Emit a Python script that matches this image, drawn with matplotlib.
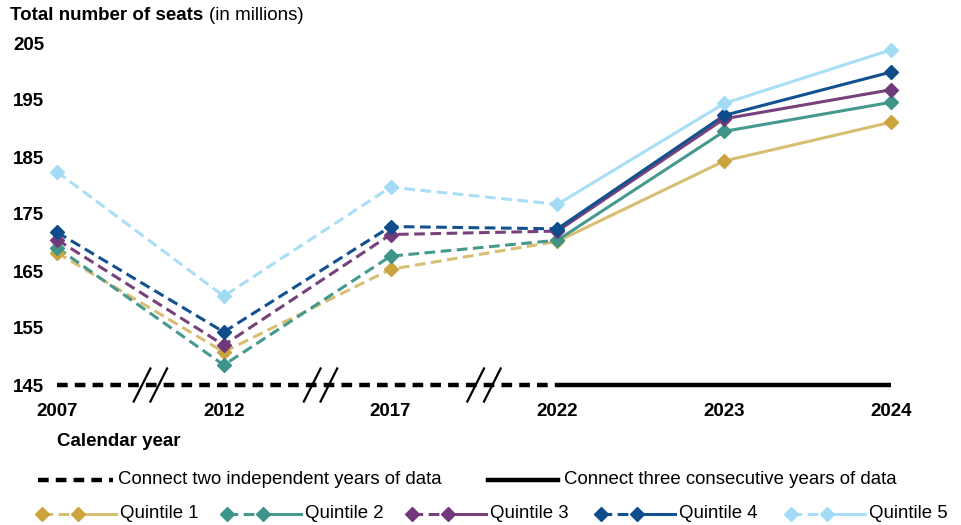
import matplotlib
matplotlib.use("Agg")
import matplotlib.pyplot as plt
from matplotlib.lines import Line2D

plt.rcParams['font.family'] = ['Liberation Sans', 'DejaVu Sans']

# data (millions of seats)
years = ['2007', '2012', '2017', '2022', '2023', '2024']
quintiles = ['Quintile 1', 'Quintile 2', 'Quintile 3', 'Quintile 4', 'Quintile 5']
q1 = [168.2, 150.8, 165.3, 170.2, 184.3, 191.1]
q2 = [169.1, 148.5, 167.6, 170.4, 189.5, 194.6]
q3 = [170.5, 152.0, 171.4, 172.0, 191.7, 196.8]
q4 = [171.8, 154.3, 172.8, 172.4, 192.3, 199.9]
q5 = [182.4, 160.6, 179.7, 176.7, 194.4, 203.8]
series = [q1, q2, q3, q4, q5]
yticks = [145, 155, 165, 175, 185, 195, 205]

line_colors = ['#D8BE72', '#46998F', '#77417B', '#12518F', '#A9DEF7']
marker_colors = ['#CCA43E', '#3E9489', '#71397A', '#0F4C8C', '#A3DAF5']

W, H = 962, 525
fig = plt.figure(figsize=(W / 100, H / 100), dpi=100)
ax = fig.add_axes([57 / W, 1 - 385 / H, (891 - 57) / W, (385 - 43) / H])

x = list(range(len(years)))
lw = 2.2
ms = 7.5
dash = (0, (3.5, 1.8))
for vals, lc, mc in zip(series, line_colors, marker_colors):
    # independent years -> dashed, consecutive years -> solid
    ax.plot(x[:4], vals[:4], color=lc, lw=lw, ls=dash, clip_on=False, zorder=3)
    ax.plot(x[3:], vals[3:], color=lc, lw=lw, ls='-', clip_on=False, zorder=3)
    ax.plot(x, vals, ls='none', marker='D', ms=ms, color=mc, clip_on=False, zorder=4)

# baseline along the x axis
ymin = yticks[0]
ax.plot(x[:4], [ymin] * 4, color='black', lw=3.2, ls=(0, (2.4, 1.6)), clip_on=False, zorder=2)
ax.plot(x[3:], [ymin] * 3, color='black', lw=3.2, ls='-', solid_capstyle='butt', clip_on=False, zorder=2)

# axis break marks between non-consecutive years
for xb in [0.56, 1.58, 2.56]:
    for off in [-0.05, 0.05]:
        xc = xb + off
        ax.plot([xc - 0.05, xc + 0.05], [ymin - 2.9, ymin + 2.9], color='black', lw=1.6,
                clip_on=False, zorder=5)

ax.set_xlim(0, 5)
ax.set_ylim(145, 205)
ax.set_xticks(x)
ax.set_xticklabels(years, fontweight='bold', fontsize=13.5)
ax.set_yticks(yticks)
ax.set_yticklabels([str(t) for t in yticks], fontweight='bold', fontsize=13.5)
ax.tick_params(axis='both', length=0)
ax.tick_params(axis='x', pad=13)
ax.tick_params(axis='y', pad=9)
for s in ax.spines.values():
    s.set_visible(False)

# title
t1 = fig.text(10 / W, 1 - 16 / H, 'Total number of seats', fontsize=13.5, fontweight='bold',
              ha='left', va='center')
fig.canvas.draw()
bb = t1.get_window_extent()
fig.text(bb.x1 / W + 6 / W, 1 - 16 / H, '(in millions)', fontsize=13.5, ha='left', va='center')

fig.text(57 / W, 1 - 441 / H, 'Calendar year', fontsize=13.5, fontweight='bold',
         ha='left', va='center')


def fp(px, py):
    return px / W, 1 - py / H


# legend row 1: line styles
yl = 480
xs, ys = zip(fp(38, yl), fp(113, yl))
fig.add_artist(Line2D(xs, ys, color='black', lw=3.2, ls=(0, (2.4, 1.6))))
fig.text(*fp(118, yl), 'Connect two independent years of data', fontsize=13.4, ha='left', va='center')
xs, ys = zip(fp(488, yl), fp(558, yl))
fig.add_artist(Line2D(xs, ys, color='black', lw=3.2))
fig.text(*fp(564, yl), 'Connect three consecutive years of data', fontsize=13.4, ha='left', va='center')

# legend row 2: quintiles
yq = 514
starts = [42, 227, 412, 601, 791]
for name, lc, mc, x0 in zip(quintiles, line_colors, marker_colors, starts):
    xs, ys = zip(fp(x0, yq), fp(x0 + 36, yq))
    fig.add_artist(Line2D(xs, ys, color=lc, lw=lw, ls=dash))
    xs, ys = zip(fp(x0 + 36, yq), fp(x0 + 74, yq))
    fig.add_artist(Line2D(xs, ys, color=lc, lw=lw))
    xs, ys = zip(fp(x0, yq), fp(x0 + 36, yq))
    fig.add_artist(Line2D(xs, ys, ls='none', marker='D', ms=ms, color=mc))
    fig.text(*fp(x0 + 78, yq), name, fontsize=13.4, ha='left', va='center')

fig.savefig('out.png', dpi=100)
